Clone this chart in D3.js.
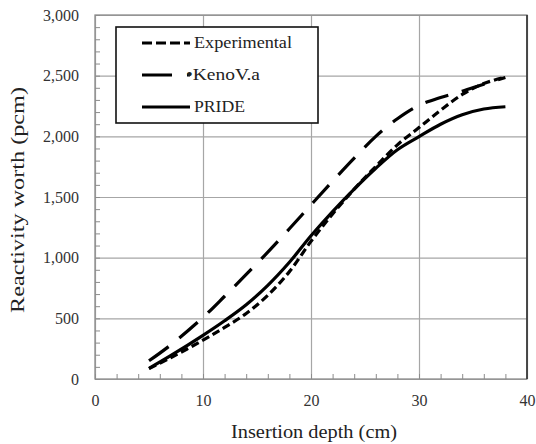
<!DOCTYPE html>
<html>
<head>
<meta charset="utf-8">
<script src="https://cdn.jsdelivr.net/npm/d3@7"></script>
<style>
  body { margin: 0; background: #fff; }
  svg { display: block; }
  svg text { font-family: "Liberation Serif", "Times New Roman", serif; }
  .grid line { stroke: #a6a6a6; stroke-width: 1.2; }
  .grid .domain { display: none; }
  .minor line { stroke: #8c8c8c; stroke-width: 1; }
  .minor .domain { display: none; }
  .labels .domain, .labels line { display: none; }
  .labels text { font-size: 16px; fill: #333; font-family: "Liberation Serif", "Times New Roman", serif; }
  .series { fill: none; stroke: #000; stroke-width: 3.2; }
</style>
</head>
<body>
<svg id="chart" width="536" height="444"></svg>
<script>
// insertion depth (cm) and reactivity worth (pcm) per method
var depthCm = [5, 7, 10, 12, 14, 16, 18, 20, 22, 24, 26, 28, 30, 32, 34, 36, 38];
var experimental = [85, 175, 320, 425, 540, 690, 885, 1135, 1360, 1565, 1752, 1930, 2072, 2215, 2345, 2435, 2488];
var kenoVa = [150, 280, 508, 682, 862, 1045, 1238, 1435, 1630, 1820, 2000, 2145, 2255, 2320, 2372, 2430, 2485];
var pride = [88, 192, 360, 480, 612, 772, 962, 1180, 1380, 1565, 1737, 1890, 1998, 2100, 2178, 2225, 2244];

var xTicks = [0, 10, 20, 30, 40];
var yTicks = [0, 500, 1000, 1500, 2000, 2500, 3000];

var seriesList = [
  { name: "Experimental", values: experimental, dash: "8,4", legendDash: "10,4" },
  { name: "\u2022KenoV.a", values: kenoVa, dash: "24,14", legendDash: "30,15,3,40" },
  { name: "PRIDE", values: pride, dash: null, legendDash: null }
];

var svg = d3.select("#chart");
var x0 = 95, x1 = 527, y0 = 379, y1 = 15;

var x = d3.scaleLinear().domain([0, 40]).range([x0, x1]);
var y = d3.scaleLinear().domain([0, 3000]).range([y0, y1]);

// gridlines at the major ticks
svg.append("g")
    .attr("class", "grid")
    .attr("transform", "translate(0," + y0 + ")")
    .call(d3.axisBottom(x).tickValues(xTicks).tickSize(-(y0 - y1)).tickFormat(""));
svg.append("g")
    .attr("class", "grid")
    .attr("transform", "translate(" + x0 + ",0)")
    .call(d3.axisLeft(y).tickValues(yTicks).tickSize(-(x1 - x0)).tickFormat(""));

// small inward ticks
svg.append("g")
    .attr("class", "minor")
    .attr("transform", "translate(" + x0 + ",0)")
    .call(d3.axisRight(y).ticks(30).tickSize(5).tickFormat(""));
svg.append("g")
    .attr("class", "minor")
    .attr("transform", "translate(0," + y0 + ")")
    .call(d3.axisTop(x).ticks(20).tickSize(5).tickFormat(""));

// frame
svg.append("rect")
    .attr("x", x0).attr("y", y1)
    .attr("width", x1 - x0).attr("height", y0 - y1)
    .attr("fill", "none")
    .attr("stroke", "#8c8c8c")
    .attr("stroke-width", 1.3);
svg.append("line")
    .attr("x1", x1).attr("x2", x1)
    .attr("y1", y1).attr("y2", y0)
    .attr("stroke", "#333")
    .attr("stroke-width", 1.6);

// tick labels
svg.append("g")
    .attr("class", "labels")
    .attr("transform", "translate(" + x0 + ",0)")
    .call(d3.axisLeft(y).tickValues(yTicks).tickSize(0).tickPadding(16).tickFormat(d3.format(",")));
svg.append("g")
    .attr("class", "labels")
    .attr("transform", "translate(0," + y0 + ")")
    .call(d3.axisBottom(x).tickValues(xTicks).tickSize(0).tickPadding(16));

// curves
var line = d3.line()
    .x(function(d, i) { return x(depthCm[i]); })
    .y(function(d) { return y(d); })
    .curve(d3.curveCatmullRom.alpha(0.5));

seriesList.forEach(function(s) {
  svg.append("path")
      .datum(s.values)
      .attr("class", "series")
      .attr("stroke-dasharray", s.dash)
      .attr("d", line);
});

// legend
var legend = svg.append("g").attr("transform", "translate(116,27)");
legend.append("rect")
    .attr("width", 202).attr("height", 96)
    .attr("fill", "#fff")
    .attr("stroke", "#111")
    .attr("stroke-width", 1.6);

var legendWidths = [98, 74, 51];
seriesList.forEach(function(s, i) {
  var ly = 16 + i * 32;
  legend.append("line")
      .attr("x1", 26).attr("x2", 74)
      .attr("y1", ly).attr("y2", ly)
      .attr("stroke", "#000")
      .attr("stroke-width", 3.2)
      .attr("stroke-dasharray", s.legendDash);
  legend.append("text")
      .attr("x", i == 1 ? 70 : 78)
      .attr("y", ly + 5)
      .attr("font-size", 16)
      .attr("textLength", legendWidths[i])
      .attr("lengthAdjust", "spacingAndGlyphs")
      .attr("fill", "#222")
      .text(s.name);
});

// axis titles
svg.append("text")
    .attr("x", 314).attr("y", 438)
    .attr("text-anchor", "middle")
    .attr("font-size", 18)
    .attr("textLength", 166)
    .attr("lengthAdjust", "spacingAndGlyphs")
    .attr("fill", "#222")
    .text("Insertion depth (cm)");
svg.append("text")
    .attr("transform", "translate(24,200) rotate(-90)")
    .attr("text-anchor", "middle")
    .attr("font-size", 18)
    .attr("textLength", 226)
    .attr("lengthAdjust", "spacingAndGlyphs")
    .attr("fill", "#222")
    .text("Reactivity worth (pcm)");
</script>
</body>
</html>
